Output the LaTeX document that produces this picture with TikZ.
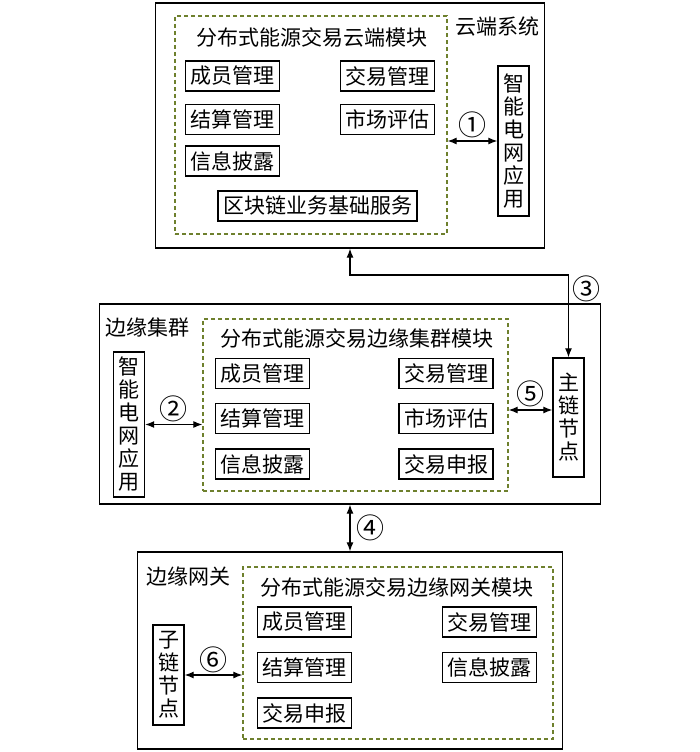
\documentclass[tikz,border=0pt]{standalone}
\usepackage{fontspec}
\usetikzlibrary{arrows.meta}
\newfontfamily\cjk{Noto Sans CJK SC}
\definecolor{olive}{RGB}{110,128,45}
\tikzset{
  every node/.style={font=\cjk\fontsize{21}{23}\selectfont},
  sysbox/.style={draw, line width=1.3pt, minimum width=#1, inner sep=0pt},
  modbox/.style={draw=olive, line width=1.3pt, dash pattern=on 4pt off 3pt, minimum width=#1, inner sep=0pt},
  funcbox/.style={draw, line width=1.4pt, minimum height=30pt, inner xsep=5pt, inner ysep=0pt},
  vbox/.style={draw, line width=1.4pt, minimum width=31pt, inner xsep=4pt, align=center},
  numlabel/.style={font=\cjk\fontsize{28}{30}\selectfont, inner sep=1pt}
}
\begin{document}
\begin{tikzpicture}[x=1pt,y=-1pt]
\useasboundingbox (0,0) rectangle (700,752);

% 云端系统
\node[sysbox=389pt, minimum height=245pt] (Y) at (350,125.5) {};%
\node[modbox=272pt, minimum height=218pt] (YM) at (311,125) {};%
\node (YT) at (497,27) {云端系统};%
\node (YMT) at (312,37) {分布式能源交易云端模块};%

\node[funcbox] (Y1) at (232.5,76) {成员管理};%
\node[funcbox] (Y2) at (387.5,76) {交易管理};%
\node[funcbox] (Y3) at (232.5,119.5) {结算管理};%
\node[funcbox] (Y4) at (387.5,119.5) {市场评估};%
\node[funcbox] (Y5) at (232.5,161) {信息披露};%
\node[funcbox] (Y6) at (317.5,206) {区块链业务基础服务};%
\node[vbox, minimum height=150pt] (YA) at (513.5,141)
{智\\能\\电\\网\\应\\用};%

% 边缘集群
\node[sysbox=501pt, minimum height=200pt] (Q) at (350,404) {};%
\node[modbox=305pt, minimum height=172pt] (QM) at (355.5,405) {};%
\node (QT) at (147,328) {边缘集群};%
\node (QMT) at (357,338) {分布式能源交易边缘集群模块};%

\node[funcbox] (Q1) at (262.5,373.5) {成员管理};%
\node[funcbox] (Q2) at (446,373.5) {交易管理};%
\node[funcbox] (Q3) at (262.5,418.5) {结算管理};%
\node[funcbox] (Q4) at (446,418.5) {市场评估};%
\node[funcbox] (Q5) at (262.5,464) {信息披露};%
\node[funcbox] (Q6) at (446,464) {交易申报};%
\node[vbox, minimum height=145pt] (QA) at (129,424.5)
{智\\能\\电\\网\\应\\用};%
\node[vbox, minimum height=119pt] (QZ) at (568.5,417.5)
{主\\链\\节\\点};%

% 边缘网关
\node[sysbox=425pt, minimum height=197pt] (G) at (350,650.5) {};%
\node[modbox=310pt, minimum height=172pt] (GM) at (398,653) {};%
\node (GT) at (188,577) {边缘网关};%
\node (GMT) at (397,587) {分布式能源交易边缘网关模块};%

\node[funcbox] (G1) at (304.5,622) {成员管理};%
\node[funcbox] (G2) at (489.5,622) {交易管理};%
\node[funcbox] (G3) at (304.5,667.5) {结算管理};%
\node[funcbox] (G4) at (489.5,667.5) {信息披露};%
\node[funcbox] (G5) at (304.5,713) {交易申报};%
\node[vbox, minimum height=100pt] (GZ) at (168.5,675)
{子\\链\\节\\点};%

\coordinate (J) at (460,275);

\draw[<->,>={Latex[length=9pt,width=7pt]}, line width=1.2pt] (YM.east |- YA.west) -- (YA.west) node[midway,above=1pt,numlabel] {①};
\draw[<->,>={Latex[length=9pt,width=7pt]}, line width=1.2pt] (QA.east) -- (QA.east -| QM.west) node[midway,above=1pt,numlabel] {②};
\draw[<->,>={Latex[length=9pt,width=7pt]}, line width=1.2pt] (Y.south) |- (J) -| node[pos=0.585,right=2pt,numlabel] {③} (QZ.north);
\draw[<->,>={Latex[length=9pt,width=7pt]}, line width=1.2pt] (Q.south) -- (G.north) node[midway,right=5pt,numlabel] {④};
\draw[<->,>={Latex[length=9pt,width=7pt]}, line width=1.2pt] ([yshift=7.5pt]QM.east |- QZ.west) -- ([yshift=7.5pt]QZ.west) node[midway,above=1pt,numlabel] {⑤};
\draw[<->,>={Latex[length=9pt,width=7pt]}, line width=1.2pt] (GZ.east) -- (GZ.east -| GM.west) node[midway,above=1pt,numlabel] {⑥};

\end{tikzpicture}
\end{document}
